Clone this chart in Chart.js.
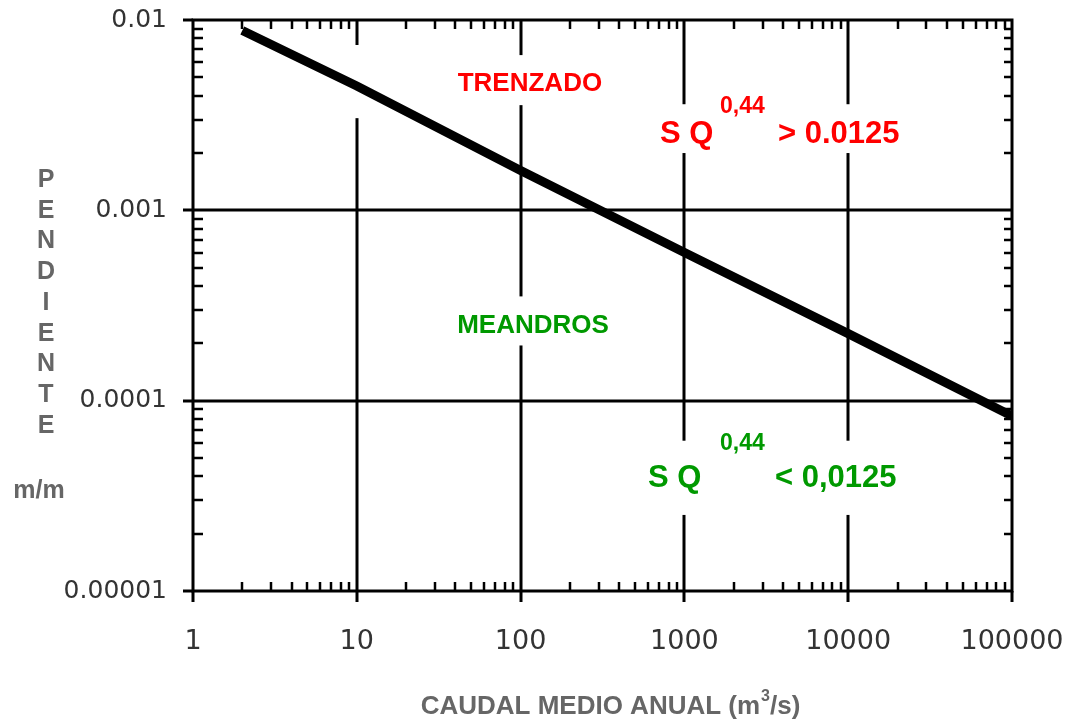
<!DOCTYPE html>
<html>
<head>
<meta charset="utf-8">
<script src="https://cdn.jsdelivr.net/npm/chart.js@4.4.0/dist/chart.umd.min.js"></script>
<style>
  html, body { margin: 0; padding: 0; background: #fff; }
  canvas { display: block; }
</style>
</head>
<body>
<canvas id="chart" width="1067" height="720"></canvas>
<script>
// boundary line S * Q^0.44 = 0.0125
const caudal = [2, 10, 100, 1000, 10000, 100000];        // m3/s
const pendiente = [0.0088, 0.0045, 0.00162, 0.0006, 0.000225, 0.000083]; // m/m

const xTickLabels = ['1', '10', '100', '1000', '10000', '100000'];
const yTickLabels = ['0.01', '0.001', '0.0001', '0.00001'];
const xGridValues = [10, 100, 1000, 10000];
const yGridValues = [0.001, 0.0001];

const FONT = "'Liberation Sans', Arial, Helvetica, sans-serif";
const TICK_FONT = "'DejaVu Sans', Verdana, sans-serif";
const RED = '#ff0000';
const GREEN = '#009900';
const GREY = '#666666';

// white gaps cut in the vertical grid lines behind the labels: [x, yTop, yBottom]
const gridGaps = [
  [10, 0.00739, 0.00305],
  [100, 0.00654, 0.00357],
  [100, 0.000353, 0.000195],
  [1000, 0.00361, 0.002],
  [10000, 0.00361, 0.002],
  [1000, 0.0000616, 0.0000251],
  [10000, 0.0000616, 0.0000251]
];

// text inside the plot, anchored in data space: [text, x, y, font, colour, align]
const notes = [
  ['TRENZADO', 114, 0.00423, 'bold 26px', RED, 'center'],
  ['S Q', 710, 0.002254, 'bold 31px', RED, 'left'],
  ['0,44', 1649, 0.003243, 'bold 23px', RED, 'left'],
  ['> 0.0125', 3727, 0.002254, 'bold 31px', RED, 'left'],
  ['MEANDROS', 119, 0.000228, 'bold 26px', GREEN, 'center'],
  ['S Q', 600, 0.0000352, 'bold 31px', GREEN, 'left'],
  ['0,44', 1649, 0.0000552, 'bold 23px', GREEN, 'left'],
  ['< 0,0125', 3573, 0.0000352, 'bold 31px', GREEN, 'left']
];

const minorValues = (lo, hi) => {
  const out = [];
  for (let e = lo; e < hi; e++) {
    for (let m = 2; m <= 9; m++) out.push(m * Math.pow(10, e));
  }
  return out;
};
const xMinor = minorValues(0, 5);
const yMinor = minorValues(-5, -2);

const noPadding = s => {
  s.paddingLeft = 0;
  s.paddingRight = 0;
  s.paddingTop = 0;
  s.paddingBottom = 0;
};

const frame = {
  id: 'frame',
  beforeDatasetsDraw(chart) {
    const { ctx, chartArea: a, scales: { x, y } } = chart;
    ctx.save();
    ctx.strokeStyle = '#000';
    ctx.lineWidth = 3;
    ctx.beginPath();
    xGridValues.forEach(v => {
      const px = Math.round(x.getPixelForValue(v));
      ctx.moveTo(px, a.top);
      ctx.lineTo(px, a.bottom);
    });
    yGridValues.forEach(v => {
      const py = Math.round(y.getPixelForValue(v));
      ctx.moveTo(a.left, py);
      ctx.lineTo(a.right, py);
    });
    ctx.stroke();
    ctx.fillStyle = '#fff';
    gridGaps.forEach(([gx, top, bottom]) => {
      const px = x.getPixelForValue(gx);
      const y1 = y.getPixelForValue(top);
      const y2 = y.getPixelForValue(bottom);
      ctx.fillRect(px - 5, y1, 10, y2 - y1);
    });
    ctx.restore();
  },
  afterDatasetsDraw(chart) {
    const { ctx, chartArea: a, scales: { x, y } } = chart;
    ctx.save();
    ctx.strokeStyle = '#000';
    ctx.lineWidth = 3;
    ctx.strokeRect(a.left, a.top, a.right - a.left, a.bottom - a.top);

    ctx.lineWidth = 2.5;
    ctx.beginPath();
    xMinor.forEach(v => {
      const px = Math.round(x.getPixelForValue(v));
      ctx.moveTo(px, a.bottom);
      ctx.lineTo(px, a.bottom - 9);
      ctx.moveTo(px, a.top);
      ctx.lineTo(px, a.top + 9);
    });
    yMinor.forEach(v => {
      const py = Math.round(y.getPixelForValue(v));
      ctx.moveTo(a.left, py);
      ctx.lineTo(a.left + 10, py);
      ctx.moveTo(a.right, py);
      ctx.lineTo(a.right - 8, py);
    });
    ctx.stroke();

    ctx.lineWidth = 3;
    ctx.beginPath();
    xTickLabels.forEach(l => {
      const px = Math.round(x.getPixelForValue(Number(l)));
      ctx.moveTo(px, a.bottom);
      ctx.lineTo(px, a.bottom + 11);
    });
    yTickLabels.forEach(l => {
      const py = Math.round(y.getPixelForValue(Number(l)));
      ctx.moveTo(a.left, py);
      ctx.lineTo(a.left - 10, py);
    });
    ctx.stroke();

    ctx.textBaseline = 'alphabetic';
    notes.forEach(([text, nx, ny, font, colour, align]) => {
      ctx.font = font + ' ' + FONT;
      ctx.fillStyle = colour;
      ctx.textAlign = align;
      ctx.fillText(text, x.getPixelForValue(nx), y.getPixelForValue(ny));
    });

    // vertical axis title, one letter per line
    ctx.fillStyle = GREY;
    ctx.textAlign = 'center';
    ctx.font = 'bold 25px ' + FONT;
    'PENDIENTE'.split('').forEach((ch, i) => {
      ctx.fillText(ch, 46, 187 + i * 30.7);
    });
    ctx.fillText('m/m', 39, 498);

    // horizontal axis title with superscript
    const main = 'CAUDAL MEDIO ANUAL (m';
    const tail = '/s)';
    ctx.font = 'bold 26px ' + FONT;
    const w1 = ctx.measureText(main).width;
    const w3 = ctx.measureText(tail).width;
    ctx.font = 'bold 16px ' + FONT;
    const w2 = ctx.measureText('3').width;
    let tx = 610 - (w1 + w2 + w3) / 2;
    ctx.textAlign = 'left';
    ctx.font = 'bold 26px ' + FONT;
    ctx.fillText(main, tx, 714);
    ctx.font = 'bold 16px ' + FONT;
    ctx.fillText('3', tx + w1 + 1, 701);
    ctx.font = 'bold 26px ' + FONT;
    ctx.fillText(tail, tx + w1 + w2 + 1, 714);
    ctx.restore();
  }
};

new Chart(document.getElementById('chart'), {
  type: 'line',
  data: {
    datasets: [{
      data: caudal.map((q, i) => ({ x: q, y: pendiente[i] })),
      borderColor: '#000',
      borderWidth: 9,
      pointRadius: 0,
      tension: 0,
      fill: false
    }]
  },
  options: {
    responsive: false,
    animation: false,
    events: [],
    layout: { padding: { top: 20, right: 55, left: 0, bottom: 0 } },
    plugins: { legend: { display: false }, tooltip: { enabled: false } },
    scales: {
      x: {
        type: 'logarithmic',
        min: 1,
        max: 100000,
        afterBuildTicks: s => { s.ticks = xTickLabels.map(l => ({ value: Number(l) })); },
        afterFit: s => { s.height = 129; noPadding(s); },
        grid: { display: false, drawTicks: false },
        border: { display: false },
        ticks: {
          autoSkip: false,
          maxRotation: 0,
          padding: 35,
          color: '#333',
          font: { family: TICK_FONT, size: 27 },
          callback: (v) => xTickLabels.find(l => Math.abs(Number(l) / v - 1) < 1e-6) || ''
        }
      },
      y: {
        type: 'logarithmic',
        min: 0.00001,
        max: 0.01,
        afterBuildTicks: s => { s.ticks = yTickLabels.map(l => ({ value: Number(l) })); },
        afterFit: s => { s.width = 193; noPadding(s); },
        grid: { display: false, drawTicks: false },
        border: { display: false },
        ticks: {
          autoSkip: false,
          padding: 26,
          color: '#333',
          font: { family: TICK_FONT, size: 25 },
          callback: (v) => yTickLabels.find(l => Math.abs(Number(l) / v - 1) < 1e-6) || ''
        }
      }
    }
  },
  plugins: [frame]
});
</script>
</body>
</html>
